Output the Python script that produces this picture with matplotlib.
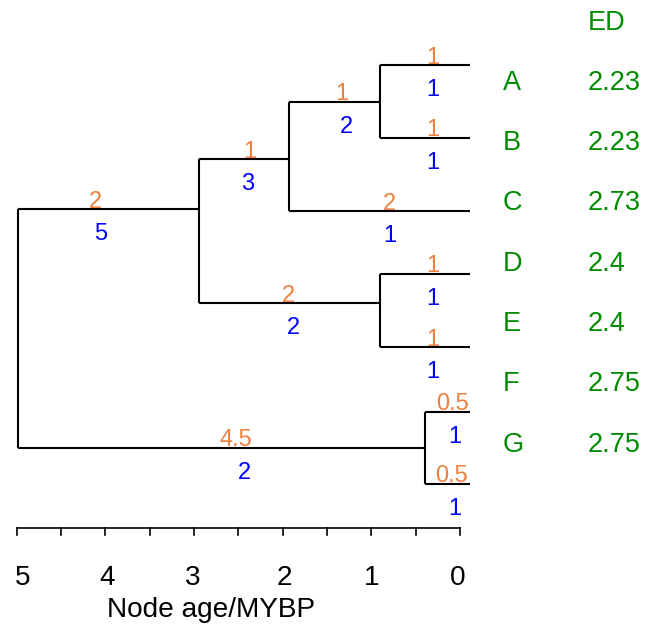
import matplotlib.pyplot as plt

plt.rcParams['font.family'] = ['Liberation Sans', 'DejaVu Sans']

# tree: (parent, child, branch length)
edges = [('root', 'n1', 2), ('n1', 'n2', 1), ('n2', 'n3', 1),
         ('n3', 'A', 1), ('n3', 'B', 1), ('n2', 'C', 2),
         ('n1', 'n4', 2), ('n4', 'D', 1), ('n4', 'E', 1),
         ('root', 'n5', 4.5), ('n5', 'F', 0.5), ('n5', 'G', 0.5)]
tips = ['A', 'B', 'C', 'D', 'E', 'F', 'G']
ed_values = ['2.23', '2.23', '2.73', '2.4', '2.4', '2.75', '2.75']
# vertical position of every node as drawn (px from top)
node_y = {'A': 65, 'B': 138, 'C': 211, 'D': 274, 'E': 347, 'F': 412, 'G': 484,
          'n3': 102, 'n2': 159, 'n4': 303, 'n1': 209, 'n5': 448}
ages = [5, 4.5, 4, 3.5, 3, 2.5, 2, 1.5, 1, 0.5, 0]

# small horizontal shifts of the edge labels (px): orange, blue
nudge = {'n1': (-13, -8), 'n2': (6, 3), 'n3': (7, 12), 'A': (8, 8), 'B': (8, 8),
         'C': (10, 10), 'n4': (-1, 4), 'D': (8, 8), 'E': (8, 8),
         'n5': (14, 23), 'F': (5, 7), 'G': (4, 7)}
# shifts of the tick labels (px)
tick_shift = {5: 6, 4: 2, 3: -1.5, 2: 2, 1: 0, 0: -2}

ORANGE = '#EE8040'
BLUE = '#0000FF'
GREEN = '#008B00'
FS = 17        # edge labels
FS_AX = 20.2   # axis text
FS_ED = 19.5   # tip names / ED

# depth of each node from the root
depth = {'root': 0}
for p, c, L in edges:
    depth[c] = depth[p] + L
children = {}
for p, c, L in edges:
    children.setdefault(p, []).append(c)

def ntips(n):
    if n not in children:
        return 1
    return sum(ntips(c) for c in children[n])

ppu = 90.35  # px per tree unit
x0 = 18.3
px = 1 / ppu
fig = plt.figure(figsize=(6.48, 6.33), dpi=100)
ax = fig.add_axes([0, 0, 1, 1])
ax.set_xlim(-x0 / ppu, (648 - x0) / ppu)
ax.set_ylim(633, 0)
ax.axis('off')

# horizontal branches + labels
for p, c, L in edges:
    y = node_y[c]
    ax.plot([depth[p], depth[c]], [y, y], color='black', lw=1.5, solid_capstyle='butt')
    mid = (depth[p] + depth[c]) / 2
    no, nb = nudge[c]
    lab = str(L) if L != int(L) else str(int(L))
    ax.text(mid + no * px, y - 1.5, lab, color=ORANGE, fontsize=FS, ha='center', va='baseline')
    ax.text(mid + nb * px, y + 31, str(ntips(c)), color=BLUE, fontsize=FS, ha='center', va='baseline')

# vertical connectors
for n, ch in children.items():
    ys = [node_y[c] for c in ch]
    ax.plot([depth[n], depth[n]], [min(ys), max(ys)], color='black', lw=1.5, solid_capstyle='butt')

# time axis (slightly different scale than the tree, as in the original)
ax_left, ax_unit = (16.7 - x0) / ppu, 88.66 / ppu
def age_x(a):
    return ax_left + (5 - a) * ax_unit

ax.plot([age_x(ages[0]), age_x(ages[-1])], [528, 528], color='black', lw=1.2)
for a in ages:
    xx = age_x(a)
    ax.plot([xx, xx], [528, 535], color='black', lw=1.2)
    if a == int(a):
        ax.text(xx + tick_shift[int(a)] * px, 585, str(int(a)), fontsize=FS_AX,
                ha='center', va='baseline')
ax.text(age_x(2.81), 616.7, 'Node age/MYBP', fontsize=FS_AX, ha='center', va='baseline')

# tip names and ED values
name_x = (503 - x0) / ppu
ed_x = (588 - x0) / ppu
ax.text(ed_x, 29.5, 'ED', color=GREEN, fontsize=FS_ED, ha='left', va='baseline')
for i, (t, v) in enumerate(zip(tips, ed_values)):
    yy = 29.5 + 60.3 * (i + 1)
    ax.text(name_x, yy, t, color=GREEN, fontsize=FS_ED, ha='left', va='baseline')
    ax.text(ed_x, yy, v, color=GREEN, fontsize=FS_ED, ha='left', va='baseline')

fig.savefig('out.png', dpi=100)
